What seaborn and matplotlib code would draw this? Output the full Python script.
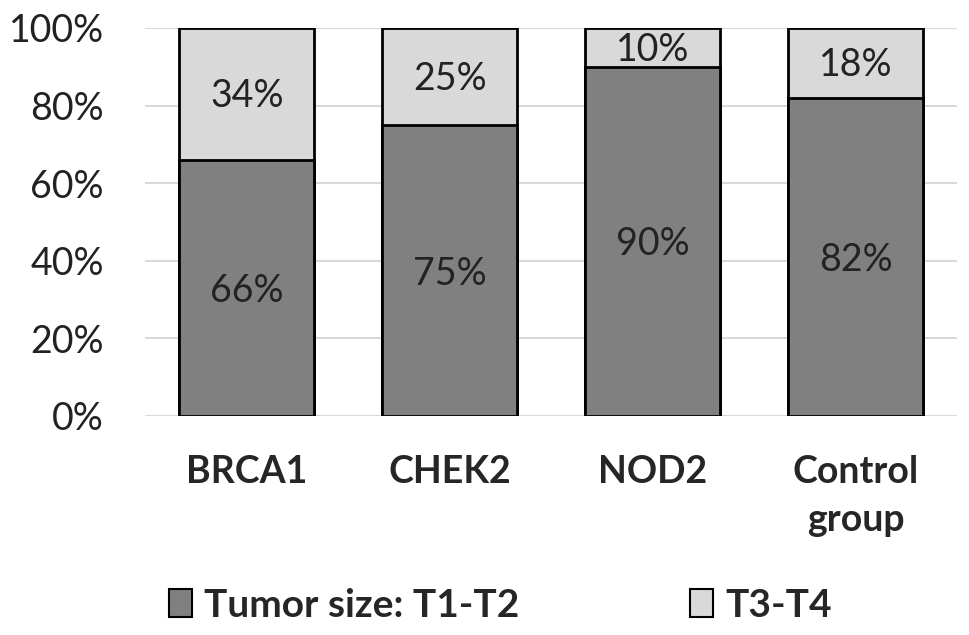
import numpy as np
import pandas as pd
import seaborn as sns
import matplotlib.pyplot as plt
import matplotlib.ticker as ticker
from matplotlib.patches import Patch

# data
groups = ["BRCA1", "CHEK2", "NOD2", "Control\ngroup"]
t1_t2 = [66, 75, 90, 82]
t3_t4 = [34, 25, 10, 18]

dark = "#808080"
light = "#d9d9d9"

sns.set_theme(style="white")
plt.rcParams['font.family'] = ['Lato', 'DejaVu Sans']

df = pd.DataFrame({"group": groups, "t1": t1_t2, "t3": t3_t4})
df["total"] = df["t1"] + df["t3"]

fig = plt.figure(figsize=(9.69, 6.35), dpi=100)
ax = fig.add_axes([0.150, 0.345, 0.838, 0.611])

# stacked bars: full bar first, then lower part on top
sns.barplot(data=df, x="group", y="total", color=light, edgecolor="black",
            linewidth=2, width=0.665, saturation=1, ax=ax, zorder=3)
sns.barplot(data=df, x="group", y="t1", color=dark, edgecolor="black",
            linewidth=2, width=0.665, saturation=1, ax=ax, zorder=3)

# value labels
for i, (a, b) in enumerate(zip(t1_t2, t3_t4)):
    ax.text(i, a / 2 - 0.8, f"{a}%", ha="center", va="center", fontsize=27, color="#222222", zorder=4)
    ax.text(i, a + b / 2 - 0.6, f"{b}%", ha="center", va="center", fontsize=27, color="#222222", zorder=4)

ax.set_ylim(0, 100)
ax.set_xlim(-0.5, 3.5)
ax.yaxis.set_major_locator(ticker.MultipleLocator(20))
ax.yaxis.set_major_formatter(ticker.FuncFormatter(lambda v, p: f"{int(v)}%"))
ax.grid(axis="y", color="#d9d9d9", linewidth=1.5, zorder=0)
ax.set_axisbelow(True)
for s in ax.spines.values():
    s.set_visible(False)
ax.tick_params(axis="y", length=0, labelsize=27, pad=30, labelcolor="#222222")
ax.tick_params(axis="x", length=0, labelsize=27, pad=28)
for lab in ax.get_xticklabels():
    lab.set_fontweight("bold")
    lab.set_linespacing(1.5)
ax.set_xlabel("")
ax.set_ylabel("")

handles = [Patch(facecolor=dark, edgecolor="black", linewidth=1.5, label="Tumor size: T1-T2"),
           Patch(facecolor=light, edgecolor="black", linewidth=1.5, label="T3-T4")]
leg = fig.legend(handles=handles, loc="center", bbox_to_anchor=(0.516, 0.047), ncol=2,
                 frameon=False, handlelength=0.6, handleheight=0.7, handletextpad=0.3,
                 columnspacing=4.4, prop={"size": 28, "weight": "bold"})

plt.savefig("out.png", dpi=100)
plt.close()
